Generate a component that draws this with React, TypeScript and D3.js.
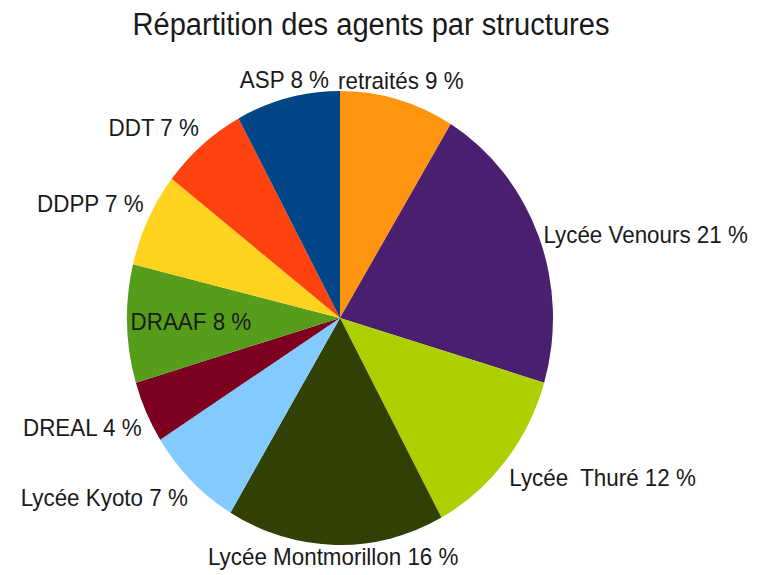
import React from "react";
import * as d3 from "d3";

const categories = [
  "retraités",
  "Lycée Venours",
  "Lycée  Thuré",
  "Lycée Montmorillon",
  "Lycée Kyoto",
  "DREAL",
  "DRAAF",
  "DDPP",
  "DDT",
  "ASP",
];
const values = [8.7, 20.9, 12.5, 16.5, 7.4, 4.4, 8.4, 6.7, 6.6, 7.9];
const percentLabels = ["9 %", "21 %", "12 %", "16 %", "7 %", "4 %", "8 %", "7 %", "7 %", "8 %"];
const colors = [
  "#ff950e",
  "#4b1f6f",
  "#aecf00",
  "#314004",
  "#83caff",
  "#7e0021",
  "#579d1c",
  "#ffd320",
  "#ff420e",
  "#004586",
];
const labelInside = [false, false, false, false, false, false, true, false, false, false];
const title = "Répartition des agents par structures";

const W = 757;
const H = 575;
const sy = 227 / 213;
const cx = 340;
const cy = 318 / sy;
const R = 213;
const FS = 22.4;
const GAP = 5;
const ASC = 0.905;
const DESC = 0.212;

export default function App() {
  const pie = d3
    .pie<number>()
    .sort(null)
    .value((d) => d)
    .startAngle(0)
    .endAngle(2 * Math.PI);
  const arcs = pie(values);
  const arcGen = d3.arc<d3.PieArcDatum<number>>().innerRadius(0).outerRadius(R);

  const maxBaseline = (H - 10) / sy;

  const labels = arcs.map((a, i) => {
    const mid = (a.startAngle + a.endAngle) / 2;
    const s = Math.sin(mid);
    const c = Math.cos(mid);
    const text = `${categories[i]} ${percentLabels[i]}`;
    if (labelInside[i]) {
      const rr = R * 0.7;
      return {
        text,
        x: cx + rr * s,
        y: cy - rr * c + ((ASC - DESC) / 2) * FS,
        anchor: "middle",
      };
    }
    const ax = cx + (R + GAP) * s;
    const ay = cy - (R + GAP) * c;
    const th = 0.383;
    const anchor = s > th ? "start" : s < -th ? "end" : "middle";
    let y;
    if (c < -th) y = ay + ASC * FS;
    else if (c > th) y = ay - DESC * FS;
    else y = ay + ((ASC - DESC) / 2) * FS;
    y = Math.min(y, maxBaseline);
    const x = anchor === "middle" ? ax + 2 * Math.sign(s) : ax;
    return { text, x, y, anchor };
  });

  return (
    <svg
      width={W}
      height={H}
      style={{ position: "absolute", left: 0, top: 0, background: "#fff" }}
      fontFamily="'Liberation Sans', Arial, sans-serif"
    >
      <g transform={`scale(1, ${sy})`}>
        <text x={371} y={35 / sy} textAnchor="middle" fontSize={29.1} fill="#1a1a1a">
          {title}
        </text>
        <g transform={`translate(${cx}, ${cy})`}>
          {arcs.map((a, i) => (
            <path key={i} d={arcGen(a) || ""} fill={colors[i]} />
          ))}
        </g>
        {labels.map((l, i) => (
          <text
            key={i}
            x={l.x}
            y={l.y}
            textAnchor={l.anchor}
            fontSize={FS}
            fill="#1a1a1a"
            style={{ whiteSpace: "pre" }}
          >
            {l.text}
          </text>
        ))}
      </g>
    </svg>
  );
}
